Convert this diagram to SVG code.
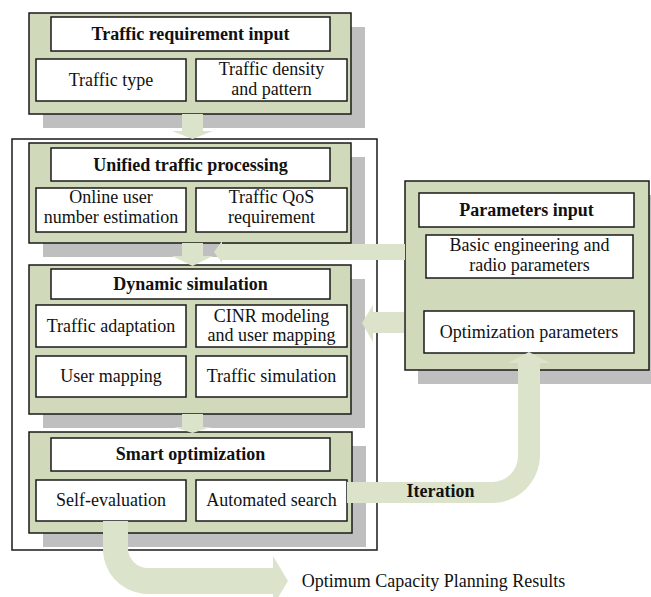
<svg xmlns="http://www.w3.org/2000/svg" width="651" height="597" viewBox="0 0 651 597">
<style>
  .shadow { fill: #BFBFBF; }
  .panel { fill: #D0D9B9; stroke: #1a1a1a; stroke-width: 1.5; }
  .box { fill: #FFFFFF; stroke: #1a1a1a; stroke-width: 1.5; }
  .container { fill: #FFFFFF; stroke: #1a1a1a; stroke-width: 1.5; }
  .arrow { fill: #DCE3CB; stroke: none; }
  text { font-family: "Liberation Serif", "Times New Roman", serif; font-size: 18px; fill: #111; text-anchor: middle; }
  .b { font-weight: bold; }
</style>
<rect width="651" height="597" fill="#FFFFFF"/>

<rect id="container" class="container" x="12" y="139" width="365" height="411"/>

<g id="traffic-requirement-input">
  <rect class="shadow" x="43" y="27" width="322" height="101"/>
  <rect class="panel" x="29" y="13" width="322" height="101"/>
  <rect class="box" x="51" y="17" width="279" height="34"/>
  <text class="b" x="190.5" y="40">Traffic requirement input</text>
  <rect class="box" x="36" y="59" width="150" height="42"/>
  <text x="111" y="86">Traffic type</text>
  <rect class="box" x="196" y="59" width="151" height="42"/>
  <text x="271.5" y="75">Traffic density</text>
  <text x="271.5" y="95">and pattern</text>
</g>

<g id="unified-traffic-processing">
  <rect class="shadow" x="43" y="157" width="322" height="100"/>
  <rect class="panel" x="29" y="143" width="322" height="100"/>
  <rect class="box" x="51" y="148" width="279" height="33"/>
  <text class="b" x="190.5" y="171">Unified traffic processing</text>
  <rect class="box" x="36" y="188" width="150" height="44"/>
  <text x="111" y="203">Online user</text>
  <text x="111" y="223">number estimation</text>
  <rect class="box" x="196" y="188" width="151" height="44"/>
  <text x="271.5" y="203">Traffic QoS</text>
  <text x="271.5" y="223">requirement</text>
</g>

<g id="dynamic-simulation">
  <rect class="shadow" x="43" y="279" width="322" height="149"/>
  <rect class="panel" x="29" y="265" width="322" height="149"/>
  <rect class="box" x="51" y="269" width="279" height="30"/>
  <text class="b" x="190.5" y="290">Dynamic simulation</text>
  <rect class="box" x="36" y="305" width="150" height="42"/>
  <text x="111" y="332">Traffic adaptation</text>
  <rect class="box" x="196" y="305" width="151" height="42"/>
  <text x="271.5" y="322">CINR modeling</text>
  <text x="271.5" y="341">and user mapping</text>
  <rect class="box" x="36" y="356" width="150" height="41"/>
  <text x="111" y="382">User mapping</text>
  <rect class="box" x="196" y="356" width="151" height="41"/>
  <text x="271.5" y="382">Traffic simulation</text>
</g>

<g id="smart-optimization">
  <rect class="shadow" x="43" y="446" width="323" height="101"/>
  <rect class="panel" x="29" y="432" width="323" height="101"/>
  <rect class="box" x="51" y="438" width="279" height="33"/>
  <text class="b" x="190.5" y="460">Smart optimization</text>
  <rect class="box" x="36" y="480" width="150" height="41"/>
  <text x="111" y="506">Self-evaluation</text>
  <rect class="box" x="196" y="480" width="151" height="41"/>
  <text x="271.5" y="506">Automated search</text>
</g>

<g id="parameters-input">
  <rect class="shadow" x="418" y="195" width="245" height="189"/>
  <rect class="panel" x="405" y="181" width="244" height="189"/>
  <rect class="box" x="419" y="193" width="215" height="34"/>
  <text class="b" x="526.5" y="216">Parameters input</text>
  <rect class="box" x="426" y="235" width="207" height="43"/>
  <text x="529.5" y="251">Basic engineering and</text>
  <text x="529.5" y="271">radio parameters</text>
  <rect class="box" x="424" y="311" width="210" height="42"/>
  <text x="529" y="338">Optimization parameters</text>
</g>

<g id="connectors">
  <path class="arrow" d="M182,114 H203 V131 H213 L192.5,139 L172,131 H182 Z"/>
  <path class="arrow" d="M182,243 H203 V256 H213 L192.5,266 L172,256 H182 Z"/>
  <path class="arrow" d="M182,414 H203 V427 H211 L192.5,433 L174,427 H182 Z"/>
  <path class="arrow" d="M405,244 H222 V241 L214,252 L222,263 V260 H405 Z"/>
  <path class="arrow" d="M404,312 H373 V305 L362,323 L373,342 V333 H404 Z"/>
  <path class="arrow" d="M347,482 H492 A26,26 0 0 0 518,456 V363 H508 L529,352 L550,363 H540 V455 A48,48 0 0 1 492,503 H347 Z"/>
  <path class="arrow" d="M103,521 H128 V548 A20,20 0 0 0 148,568 H273 V556 L288,581 L273,606 V594 H148 A45,45 0 0 1 103,549 Z"/>
  <text class="b" x="440.5" y="497">Iteration</text>
</g>

<text id="result-label" x="433.5" y="587">Optimum Capacity Planning Results</text>
</svg>
